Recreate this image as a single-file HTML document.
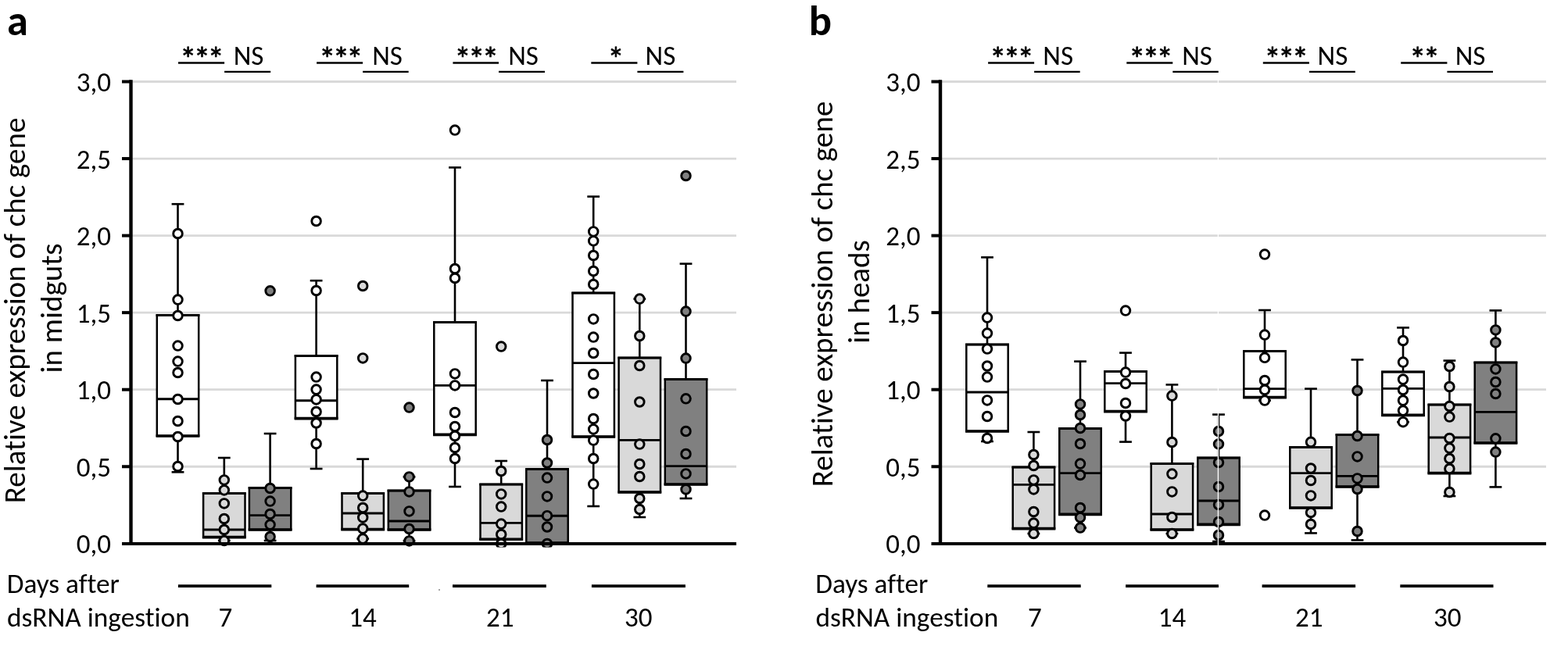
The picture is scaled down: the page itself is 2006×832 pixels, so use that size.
<!DOCTYPE html>
<html><head><meta charset="utf-8"><title>chc gene expression</title>
<style>
html,body{margin:0;padding:0;background:#fff;width:2006px;height:832px;overflow:hidden}
svg{display:block}
text{font-variant-ligatures:none;font-feature-settings:"liga" 0,"clig" 0}
.t{font-family:"Carlito","Liberation Sans",sans-serif;font-size:35px;fill:#000}
.yt{font-family:"Carlito","Liberation Sans",sans-serif;font-size:39px;fill:#000}
.t2{font-family:"Carlito","Liberation Sans",sans-serif;font-size:35.3px;fill:#000}
.ast{font-family:"Carlito","Liberation Sans",sans-serif;font-size:43px;letter-spacing:-3.7px;fill:#000;stroke:#000;stroke-width:0.7px}
.L{font-family:"Carlito","Liberation Sans",sans-serif;font-size:54.5px;font-weight:bold;fill:#000}
</style></head><body>
<svg width="2006" height="832" viewBox="0 0 2006 832">
<defs><clipPath id="pc"><rect x="0" y="0" width="2006" height="700.6"/></clipPath></defs>
<rect width="2006" height="832" fill="#fff"/>
<line x1="167.5" y1="597.25" x2="942" y2="597.25" stroke="#d9d9d9" stroke-width="2.8"/>
<line x1="167.5" y1="498.7" x2="942" y2="498.7" stroke="#d9d9d9" stroke-width="2.8"/>
<line x1="167.5" y1="400.15" x2="942" y2="400.15" stroke="#d9d9d9" stroke-width="2.8"/>
<line x1="167.5" y1="301.6" x2="942" y2="301.6" stroke="#d9d9d9" stroke-width="2.8"/>
<line x1="167.5" y1="203.05" x2="942" y2="203.05" stroke="#d9d9d9" stroke-width="2.8"/>
<line x1="167.5" y1="104.5" x2="942" y2="104.5" stroke="#d9d9d9" stroke-width="2.8"/>
<line x1="227.5" y1="261.2" x2="227.5" y2="403.4" stroke="#000" stroke-width="2.6"/>
<line x1="219.6" y1="261.2" x2="235.4" y2="261.2" stroke="#000" stroke-width="2.6"/>
<line x1="227.5" y1="558" x2="227.5" y2="604.3" stroke="#000" stroke-width="2.6"/>
<line x1="219.6" y1="604.3" x2="235.4" y2="604.3" stroke="#000" stroke-width="2.6"/>
<rect x="200.8" y="403.4" width="53.4" height="154.6" fill="white" stroke="#000" stroke-width="2.5"/>
<line x1="199.6" y1="403.4" x2="255.4" y2="403.4" stroke="#000" stroke-width="3"/>
<line x1="199.6" y1="558" x2="255.4" y2="558" stroke="#000" stroke-width="3.6"/>
<line x1="200.8" y1="510.8" x2="254.2" y2="510.8" stroke="#000" stroke-width="2.9"/>
<circle cx="227.5" cy="299" r="5.8" fill="white" stroke="#000" stroke-width="2.9"/>
<circle cx="227.5" cy="383.6" r="5.8" fill="white" stroke="#000" stroke-width="2.9"/>
<circle cx="227.5" cy="404" r="5.8" fill="white" stroke="#000" stroke-width="2.9"/>
<circle cx="227.5" cy="442.6" r="5.8" fill="white" stroke="#000" stroke-width="2.9"/>
<circle cx="227.5" cy="462.6" r="5.8" fill="white" stroke="#000" stroke-width="2.9"/>
<circle cx="227.5" cy="477" r="5.8" fill="white" stroke="#000" stroke-width="2.9"/>
<circle cx="227.5" cy="511" r="5.8" fill="white" stroke="#000" stroke-width="2.9"/>
<circle cx="227.5" cy="539" r="5.8" fill="white" stroke="#000" stroke-width="2.9"/>
<circle cx="227.5" cy="559" r="5.8" fill="white" stroke="#000" stroke-width="2.9"/>
<circle cx="227.5" cy="597" r="5.8" fill="white" stroke="#000" stroke-width="2.9"/>
<line x1="286.8" y1="586" x2="286.8" y2="631.6" stroke="#000" stroke-width="2.6"/>
<line x1="278.9" y1="586" x2="294.7" y2="586" stroke="#000" stroke-width="2.6"/>
<line x1="286.8" y1="687.6" x2="286.8" y2="692" stroke="#000" stroke-width="2.6"/>
<line x1="278.9" y1="692" x2="294.7" y2="692" stroke="#000" stroke-width="2.6"/>
<rect x="260.1" y="631.6" width="53.4" height="56" fill="#d9d9d9" stroke="#000" stroke-width="2.5"/>
<line x1="258.9" y1="631.6" x2="314.7" y2="631.6" stroke="#000" stroke-width="3"/>
<line x1="258.9" y1="687.6" x2="314.7" y2="687.6" stroke="#000" stroke-width="3.6"/>
<line x1="260.1" y1="678" x2="313.5" y2="678" stroke="#000" stroke-width="2.9"/>
<circle cx="286.8" cy="614.4" r="5.8" fill="#d9d9d9" stroke="#000" stroke-width="2.9"/>
<circle cx="286.8" cy="627.4" r="5.8" fill="#d9d9d9" stroke="#000" stroke-width="2.9"/>
<circle cx="286.8" cy="644.4" r="5.8" fill="#d9d9d9" stroke="#000" stroke-width="2.9"/>
<circle cx="286.8" cy="664" r="5.8" fill="#d9d9d9" stroke="#000" stroke-width="2.9"/>
<circle cx="286.8" cy="678" r="5.8" fill="#d9d9d9" stroke="#000" stroke-width="2.9"/>
<circle cx="286.8" cy="692" r="5.8" fill="#d9d9d9" stroke="#000" stroke-width="2.9" clip-path="url(#pc)"/>
<line x1="345.6" y1="555" x2="345.6" y2="624.6" stroke="#000" stroke-width="2.6"/>
<line x1="337.7" y1="555" x2="353.5" y2="555" stroke="#000" stroke-width="2.6"/>
<line x1="345.6" y1="678" x2="345.6" y2="692" stroke="#000" stroke-width="2.6"/>
<line x1="337.7" y1="692" x2="353.5" y2="692" stroke="#000" stroke-width="2.6"/>
<rect x="318.9" y="624.6" width="53.4" height="53.4" fill="#808080" stroke="#000" stroke-width="2.5"/>
<line x1="317.7" y1="624.6" x2="373.5" y2="624.6" stroke="#000" stroke-width="3"/>
<line x1="317.7" y1="678" x2="373.5" y2="678" stroke="#000" stroke-width="3.6"/>
<line x1="318.9" y1="659.6" x2="372.3" y2="659.6" stroke="#000" stroke-width="2.9"/>
<circle cx="345.6" cy="372.3" r="5.8" fill="#808080" stroke="#000" stroke-width="2.9"/>
<circle cx="345.6" cy="625" r="5.8" fill="#808080" stroke="#000" stroke-width="2.9"/>
<circle cx="345.6" cy="641.6" r="5.8" fill="#808080" stroke="#000" stroke-width="2.9"/>
<circle cx="345.6" cy="658" r="5.8" fill="#808080" stroke="#000" stroke-width="2.9"/>
<circle cx="345.6" cy="671.6" r="5.8" fill="#808080" stroke="#000" stroke-width="2.9"/>
<circle cx="345.6" cy="687" r="5.8" fill="#808080" stroke="#000" stroke-width="2.9"/>
<line x1="404.6" y1="359.2" x2="404.6" y2="455.4" stroke="#000" stroke-width="2.6"/>
<line x1="396.7" y1="359.2" x2="412.5" y2="359.2" stroke="#000" stroke-width="2.6"/>
<line x1="404.6" y1="535.6" x2="404.6" y2="600" stroke="#000" stroke-width="2.6"/>
<line x1="396.7" y1="600" x2="412.5" y2="600" stroke="#000" stroke-width="2.6"/>
<rect x="377.9" y="455.4" width="53.4" height="80.2" fill="white" stroke="#000" stroke-width="2.5"/>
<line x1="376.7" y1="455.4" x2="432.5" y2="455.4" stroke="#000" stroke-width="3"/>
<line x1="376.7" y1="535.6" x2="432.5" y2="535.6" stroke="#000" stroke-width="3.6"/>
<line x1="377.9" y1="512.8" x2="431.3" y2="512.8" stroke="#000" stroke-width="2.9"/>
<circle cx="404.6" cy="283" r="5.8" fill="white" stroke="#000" stroke-width="2.9"/>
<circle cx="404.6" cy="372" r="5.8" fill="white" stroke="#000" stroke-width="2.9"/>
<circle cx="404.6" cy="482.6" r="5.8" fill="white" stroke="#000" stroke-width="2.9"/>
<circle cx="404.6" cy="498.6" r="5.8" fill="white" stroke="#000" stroke-width="2.9"/>
<circle cx="404.6" cy="511.4" r="5.8" fill="white" stroke="#000" stroke-width="2.9"/>
<circle cx="404.6" cy="527" r="5.8" fill="white" stroke="#000" stroke-width="2.9"/>
<circle cx="404.6" cy="541.5" r="5.8" fill="white" stroke="#000" stroke-width="2.9"/>
<circle cx="404.6" cy="568" r="5.8" fill="white" stroke="#000" stroke-width="2.9"/>
<line x1="464.2" y1="587.6" x2="464.2" y2="631.6" stroke="#000" stroke-width="2.6"/>
<line x1="456.3" y1="587.6" x2="472.1" y2="587.6" stroke="#000" stroke-width="2.6"/>
<line x1="464.2" y1="677.6" x2="464.2" y2="689.6" stroke="#000" stroke-width="2.6"/>
<line x1="456.3" y1="689.6" x2="472.1" y2="689.6" stroke="#000" stroke-width="2.6"/>
<rect x="437.5" y="631.6" width="53.4" height="46" fill="#d9d9d9" stroke="#000" stroke-width="2.5"/>
<line x1="436.3" y1="631.6" x2="492.1" y2="631.6" stroke="#000" stroke-width="3"/>
<line x1="436.3" y1="677.6" x2="492.1" y2="677.6" stroke="#000" stroke-width="3.6"/>
<line x1="437.5" y1="657" x2="490.9" y2="657" stroke="#000" stroke-width="2.9"/>
<circle cx="464.2" cy="366" r="5.8" fill="#d9d9d9" stroke="#000" stroke-width="2.9"/>
<circle cx="464.2" cy="458.4" r="5.8" fill="#d9d9d9" stroke="#000" stroke-width="2.9"/>
<circle cx="464.2" cy="634.6" r="5.8" fill="#d9d9d9" stroke="#000" stroke-width="2.9"/>
<circle cx="464.2" cy="650" r="5.8" fill="#d9d9d9" stroke="#000" stroke-width="2.9"/>
<circle cx="464.2" cy="662.4" r="5.8" fill="#d9d9d9" stroke="#000" stroke-width="2.9"/>
<circle cx="464.2" cy="676.6" r="5.8" fill="#d9d9d9" stroke="#000" stroke-width="2.9"/>
<circle cx="464.2" cy="689.6" r="5.8" fill="#d9d9d9" stroke="#000" stroke-width="2.9"/>
<line x1="523.5" y1="610.4" x2="523.5" y2="628" stroke="#000" stroke-width="2.6"/>
<line x1="515.6" y1="610.4" x2="531.4" y2="610.4" stroke="#000" stroke-width="2.6"/>
<line x1="523.5" y1="678" x2="523.5" y2="692.4" stroke="#000" stroke-width="2.6"/>
<line x1="515.6" y1="692.4" x2="531.4" y2="692.4" stroke="#000" stroke-width="2.6"/>
<rect x="496.8" y="628" width="53.4" height="50" fill="#808080" stroke="#000" stroke-width="2.5"/>
<line x1="495.6" y1="628" x2="551.4" y2="628" stroke="#000" stroke-width="3"/>
<line x1="495.6" y1="678" x2="551.4" y2="678" stroke="#000" stroke-width="3.6"/>
<line x1="496.8" y1="667" x2="550.2" y2="667" stroke="#000" stroke-width="2.9"/>
<circle cx="523.5" cy="521.6" r="5.8" fill="#808080" stroke="#000" stroke-width="2.9"/>
<circle cx="523.5" cy="610.4" r="5.8" fill="#808080" stroke="#000" stroke-width="2.9"/>
<circle cx="523.5" cy="629.4" r="5.8" fill="#808080" stroke="#000" stroke-width="2.9"/>
<circle cx="523.5" cy="654.4" r="5.8" fill="#808080" stroke="#000" stroke-width="2.9"/>
<circle cx="523.5" cy="677" r="5.8" fill="#808080" stroke="#000" stroke-width="2.9"/>
<circle cx="523.5" cy="692.4" r="5.8" fill="#808080" stroke="#000" stroke-width="2.9" clip-path="url(#pc)"/>
<line x1="582" y1="214.4" x2="582" y2="412.5" stroke="#000" stroke-width="2.6"/>
<line x1="574.1" y1="214.4" x2="589.9" y2="214.4" stroke="#000" stroke-width="2.6"/>
<line x1="582" y1="556.4" x2="582" y2="623" stroke="#000" stroke-width="2.6"/>
<line x1="574.1" y1="623" x2="589.9" y2="623" stroke="#000" stroke-width="2.6"/>
<rect x="555.3" y="412.5" width="53.4" height="143.9" fill="white" stroke="#000" stroke-width="2.5"/>
<line x1="554.1" y1="412.5" x2="609.9" y2="412.5" stroke="#000" stroke-width="3"/>
<line x1="554.1" y1="556.4" x2="609.9" y2="556.4" stroke="#000" stroke-width="3.6"/>
<line x1="555.3" y1="493.4" x2="608.7" y2="493.4" stroke="#000" stroke-width="2.9"/>
<circle cx="582" cy="166.6" r="5.8" fill="white" stroke="#000" stroke-width="2.9"/>
<circle cx="582" cy="344" r="5.8" fill="white" stroke="#000" stroke-width="2.9"/>
<circle cx="582" cy="356" r="5.8" fill="white" stroke="#000" stroke-width="2.9"/>
<circle cx="582" cy="478.4" r="5.8" fill="white" stroke="#000" stroke-width="2.9"/>
<circle cx="582" cy="493.4" r="5.8" fill="white" stroke="#000" stroke-width="2.9"/>
<circle cx="582" cy="528" r="5.8" fill="white" stroke="#000" stroke-width="2.9"/>
<circle cx="582" cy="546" r="5.8" fill="white" stroke="#000" stroke-width="2.9"/>
<circle cx="582" cy="558" r="5.8" fill="white" stroke="#000" stroke-width="2.9"/>
<circle cx="582" cy="573" r="5.8" fill="white" stroke="#000" stroke-width="2.9"/>
<circle cx="582" cy="587" r="5.8" fill="white" stroke="#000" stroke-width="2.9"/>
<line x1="641.2" y1="590" x2="641.2" y2="620" stroke="#000" stroke-width="2.6"/>
<line x1="633.3" y1="590" x2="649.1" y2="590" stroke="#000" stroke-width="2.6"/>
<line x1="641.2" y1="690.3" x2="641.2" y2="696" stroke="#000" stroke-width="2.6"/>
<line x1="633.3" y1="696" x2="649.1" y2="696" stroke="#000" stroke-width="2.6"/>
<rect x="614.5" y="620" width="53.4" height="70.3" fill="#d9d9d9" stroke="#000" stroke-width="2.5"/>
<line x1="613.3" y1="620" x2="669.1" y2="620" stroke="#000" stroke-width="3"/>
<line x1="613.3" y1="690.3" x2="669.1" y2="690.3" stroke="#000" stroke-width="3.6"/>
<line x1="614.5" y1="669.4" x2="667.9" y2="669.4" stroke="#000" stroke-width="2.9"/>
<circle cx="641.2" cy="443.6" r="5.8" fill="#d9d9d9" stroke="#000" stroke-width="2.9"/>
<circle cx="641.2" cy="603" r="5.8" fill="#d9d9d9" stroke="#000" stroke-width="2.9"/>
<circle cx="641.2" cy="632.4" r="5.8" fill="#d9d9d9" stroke="#000" stroke-width="2.9"/>
<circle cx="641.2" cy="648.6" r="5.8" fill="#d9d9d9" stroke="#000" stroke-width="2.9"/>
<circle cx="641.2" cy="670.6" r="5.8" fill="#d9d9d9" stroke="#000" stroke-width="2.9"/>
<circle cx="641.2" cy="684" r="5.8" fill="#d9d9d9" stroke="#000" stroke-width="2.9"/>
<circle cx="641.2" cy="696" r="5.8" fill="#d9d9d9" stroke="#000" stroke-width="2.9" clip-path="url(#pc)"/>
<line x1="700" y1="487" x2="700" y2="600.6" stroke="#000" stroke-width="2.6"/>
<line x1="692.1" y1="487" x2="707.9" y2="487" stroke="#000" stroke-width="2.6"/>
<line x1="700" y1="695" x2="700" y2="696" stroke="#000" stroke-width="2.6"/>
<line x1="692.1" y1="696" x2="707.9" y2="696" stroke="#000" stroke-width="2.6"/>
<rect x="673.3" y="600.6" width="53.4" height="94.4" fill="#808080" stroke="#000" stroke-width="2.5"/>
<line x1="672.1" y1="600.6" x2="727.9" y2="600.6" stroke="#000" stroke-width="3"/>
<line x1="672.1" y1="695" x2="727.9" y2="695" stroke="#000" stroke-width="3.6"/>
<line x1="673.3" y1="660.2" x2="726.7" y2="660.2" stroke="#000" stroke-width="2.9"/>
<circle cx="700" cy="563" r="5.8" fill="#808080" stroke="#000" stroke-width="2.9"/>
<circle cx="700" cy="592.5" r="5.8" fill="#808080" stroke="#000" stroke-width="2.9"/>
<circle cx="700" cy="611.6" r="5.8" fill="#808080" stroke="#000" stroke-width="2.9"/>
<circle cx="700" cy="635.4" r="5.8" fill="#808080" stroke="#000" stroke-width="2.9"/>
<circle cx="700" cy="660.2" r="5.8" fill="#808080" stroke="#000" stroke-width="2.9"/>
<circle cx="700" cy="674.5" r="5.8" fill="#808080" stroke="#000" stroke-width="2.9"/>
<circle cx="700" cy="696" r="5.8" fill="#808080" stroke="#000" stroke-width="2.9" clip-path="url(#pc)"/>
<line x1="759.2" y1="251.6" x2="759.2" y2="375" stroke="#000" stroke-width="2.6"/>
<line x1="751.3" y1="251.6" x2="767.1" y2="251.6" stroke="#000" stroke-width="2.6"/>
<line x1="759.2" y1="559" x2="759.2" y2="648" stroke="#000" stroke-width="2.6"/>
<line x1="751.3" y1="648" x2="767.1" y2="648" stroke="#000" stroke-width="2.6"/>
<rect x="732.5" y="375" width="53.4" height="184" fill="white" stroke="#000" stroke-width="2.5"/>
<line x1="731.3" y1="375" x2="787.1" y2="375" stroke="#000" stroke-width="3"/>
<line x1="731.3" y1="559" x2="787.1" y2="559" stroke="#000" stroke-width="3.6"/>
<line x1="732.5" y1="464.6" x2="785.9" y2="464.6" stroke="#000" stroke-width="2.9"/>
<circle cx="759.2" cy="296.4" r="5.8" fill="white" stroke="#000" stroke-width="2.9"/>
<circle cx="759.2" cy="308.4" r="5.8" fill="white" stroke="#000" stroke-width="2.9"/>
<circle cx="759.2" cy="327" r="5.8" fill="white" stroke="#000" stroke-width="2.9"/>
<circle cx="759.2" cy="347" r="5.8" fill="white" stroke="#000" stroke-width="2.9"/>
<circle cx="759.2" cy="364" r="5.8" fill="white" stroke="#000" stroke-width="2.9"/>
<circle cx="759.2" cy="408.4" r="5.8" fill="white" stroke="#000" stroke-width="2.9"/>
<circle cx="759.2" cy="431.6" r="5.8" fill="white" stroke="#000" stroke-width="2.9"/>
<circle cx="759.2" cy="452" r="5.8" fill="white" stroke="#000" stroke-width="2.9"/>
<circle cx="759.2" cy="479" r="5.8" fill="white" stroke="#000" stroke-width="2.9"/>
<circle cx="759.2" cy="503.5" r="5.8" fill="white" stroke="#000" stroke-width="2.9"/>
<circle cx="759.2" cy="536" r="5.8" fill="white" stroke="#000" stroke-width="2.9"/>
<circle cx="759.2" cy="549.4" r="5.8" fill="white" stroke="#000" stroke-width="2.9"/>
<circle cx="759.2" cy="563.6" r="5.8" fill="white" stroke="#000" stroke-width="2.9"/>
<circle cx="759.2" cy="587" r="5.8" fill="white" stroke="#000" stroke-width="2.9"/>
<circle cx="759.2" cy="619.6" r="5.8" fill="white" stroke="#000" stroke-width="2.9"/>
<line x1="818.3" y1="382.6" x2="818.3" y2="458" stroke="#000" stroke-width="2.6"/>
<line x1="810.4" y1="382.6" x2="826.2" y2="382.6" stroke="#000" stroke-width="2.6"/>
<line x1="818.3" y1="630" x2="818.3" y2="662" stroke="#000" stroke-width="2.6"/>
<line x1="810.4" y1="662" x2="826.2" y2="662" stroke="#000" stroke-width="2.6"/>
<rect x="791.6" y="458" width="53.4" height="172" fill="#d9d9d9" stroke="#000" stroke-width="2.5"/>
<line x1="790.4" y1="458" x2="846.2" y2="458" stroke="#000" stroke-width="3"/>
<line x1="790.4" y1="630" x2="846.2" y2="630" stroke="#000" stroke-width="3.6"/>
<line x1="791.6" y1="563.4" x2="845" y2="563.4" stroke="#000" stroke-width="2.9"/>
<circle cx="818.3" cy="382.6" r="5.8" fill="#d9d9d9" stroke="#000" stroke-width="2.9"/>
<circle cx="818.3" cy="430" r="5.8" fill="#d9d9d9" stroke="#000" stroke-width="2.9"/>
<circle cx="818.3" cy="468" r="5.8" fill="#d9d9d9" stroke="#000" stroke-width="2.9"/>
<circle cx="818.3" cy="514.5" r="5.8" fill="#d9d9d9" stroke="#000" stroke-width="2.9"/>
<circle cx="818.3" cy="568.6" r="5.8" fill="#d9d9d9" stroke="#000" stroke-width="2.9"/>
<circle cx="818.3" cy="594" r="5.8" fill="#d9d9d9" stroke="#000" stroke-width="2.9"/>
<circle cx="818.3" cy="610" r="5.8" fill="#d9d9d9" stroke="#000" stroke-width="2.9"/>
<circle cx="818.3" cy="638" r="5.8" fill="#d9d9d9" stroke="#000" stroke-width="2.9"/>
<circle cx="818.3" cy="652" r="5.8" fill="#d9d9d9" stroke="#000" stroke-width="2.9"/>
<line x1="877.5" y1="337.6" x2="877.5" y2="485.4" stroke="#000" stroke-width="2.6"/>
<line x1="869.6" y1="337.6" x2="885.4" y2="337.6" stroke="#000" stroke-width="2.6"/>
<line x1="877.5" y1="620" x2="877.5" y2="638" stroke="#000" stroke-width="2.6"/>
<line x1="869.6" y1="638" x2="885.4" y2="638" stroke="#000" stroke-width="2.6"/>
<rect x="850.8" y="485.4" width="53.4" height="134.6" fill="#808080" stroke="#000" stroke-width="2.5"/>
<line x1="849.6" y1="485.4" x2="905.4" y2="485.4" stroke="#000" stroke-width="3"/>
<line x1="849.6" y1="620" x2="905.4" y2="620" stroke="#000" stroke-width="3.6"/>
<line x1="850.8" y1="596.6" x2="904.2" y2="596.6" stroke="#000" stroke-width="2.9"/>
<circle cx="877.5" cy="225" r="5.8" fill="#808080" stroke="#000" stroke-width="2.9"/>
<circle cx="877.5" cy="398.6" r="5.8" fill="#808080" stroke="#000" stroke-width="2.9"/>
<circle cx="877.5" cy="458.6" r="5.8" fill="#808080" stroke="#000" stroke-width="2.9"/>
<circle cx="877.5" cy="510.3" r="5.8" fill="#808080" stroke="#000" stroke-width="2.9"/>
<circle cx="877.5" cy="552" r="5.8" fill="#808080" stroke="#000" stroke-width="2.9"/>
<circle cx="877.5" cy="581" r="5.8" fill="#808080" stroke="#000" stroke-width="2.9"/>
<circle cx="877.5" cy="606.4" r="5.8" fill="#808080" stroke="#000" stroke-width="2.9"/>
<circle cx="877.5" cy="626.4" r="5.8" fill="#808080" stroke="#000" stroke-width="2.9"/>
<line x1="167.5" y1="102.3" x2="167.5" y2="698" stroke="#000" stroke-width="4.4"/>
<line x1="156" y1="695.9" x2="942" y2="695.9" stroke="#000" stroke-width="4"/>
<line x1="156" y1="597.25" x2="167.5" y2="597.25" stroke="#000" stroke-width="4"/>
<line x1="156" y1="498.7" x2="167.5" y2="498.7" stroke="#000" stroke-width="4"/>
<line x1="156" y1="400.15" x2="167.5" y2="400.15" stroke="#000" stroke-width="4"/>
<line x1="156" y1="301.6" x2="167.5" y2="301.6" stroke="#000" stroke-width="4"/>
<line x1="156" y1="203.05" x2="167.5" y2="203.05" stroke="#000" stroke-width="4"/>
<line x1="156" y1="104.5" x2="167.5" y2="104.5" stroke="#000" stroke-width="4"/>
<text x="142" y="708.4" class="t" text-anchor="end" textLength="44.22" lengthAdjust="spacingAndGlyphs">0,0</text>
<text x="142" y="609.85" class="t" text-anchor="end" textLength="44.22" lengthAdjust="spacingAndGlyphs">0,5</text>
<text x="142" y="511.3" class="t" text-anchor="end" textLength="44.22" lengthAdjust="spacingAndGlyphs">1,0</text>
<text x="142" y="412.75" class="t" text-anchor="end" textLength="44.22" lengthAdjust="spacingAndGlyphs">1,5</text>
<text x="142" y="314.2" class="t" text-anchor="end" textLength="44.22" lengthAdjust="spacingAndGlyphs">2,0</text>
<text x="142" y="215.65" class="t" text-anchor="end" textLength="44.22" lengthAdjust="spacingAndGlyphs">2,5</text>
<text x="142" y="117.1" class="t" text-anchor="end" textLength="44.22" lengthAdjust="spacingAndGlyphs">3,0</text>
<line x1="228" y1="80.5" x2="287.1" y2="80.5" stroke="#000" stroke-width="2.4"/>
<line x1="287.1" y1="91.9" x2="346.2" y2="91.9" stroke="#000" stroke-width="2.4"/>
<text x="256.7" y="90.7" class="ast" text-anchor="middle">***</text>
<text x="318.1" y="82.8" class="t" text-anchor="middle" textLength="38.69" lengthAdjust="spacingAndGlyphs">NS</text>
<line x1="405.1" y1="80.5" x2="464.1" y2="80.5" stroke="#000" stroke-width="2.4"/>
<line x1="464.1" y1="91.9" x2="522.7" y2="91.9" stroke="#000" stroke-width="2.4"/>
<text x="434.5" y="90.7" class="ast" text-anchor="middle">***</text>
<text x="495.5" y="82.8" class="t" text-anchor="middle" textLength="38.69" lengthAdjust="spacingAndGlyphs">NS</text>
<line x1="579.4" y1="80.5" x2="638" y2="80.5" stroke="#000" stroke-width="2.4"/>
<line x1="638" y1="91.9" x2="697" y2="91.9" stroke="#000" stroke-width="2.4"/>
<text x="607.8" y="90.7" class="ast" text-anchor="middle">***</text>
<text x="669.5" y="82.8" class="t" text-anchor="middle" textLength="38.69" lengthAdjust="spacingAndGlyphs">NS</text>
<line x1="756.3" y1="80.5" x2="815.4" y2="80.5" stroke="#000" stroke-width="2.4"/>
<line x1="815.4" y1="91.9" x2="874.4" y2="91.9" stroke="#000" stroke-width="2.4"/>
<text x="786" y="90.7" class="ast" text-anchor="middle">*</text>
<text x="844.9" y="82.8" class="t" text-anchor="middle" textLength="38.69" lengthAdjust="spacingAndGlyphs">NS</text>
<text x="8.7" y="758.6" class="t2" textLength="144.19" lengthAdjust="spacingAndGlyphs">Days after</text>
<text x="9" y="802" class="t2" textLength="233.73" lengthAdjust="spacingAndGlyphs">dsRNA ingestion</text>
<line x1="227.9" y1="750.1" x2="347.3" y2="750.1" stroke="#000" stroke-width="3.7"/>
<text x="288.25" y="802" class="t" text-anchor="middle" textLength="17.75" lengthAdjust="spacingAndGlyphs">7</text>
<line x1="404.6" y1="750.1" x2="523.2" y2="750.1" stroke="#000" stroke-width="3.7"/>
<text x="464.05" y="802" class="t" text-anchor="middle" textLength="35.48" lengthAdjust="spacingAndGlyphs">14</text>
<line x1="579" y1="750.1" x2="698.8" y2="750.1" stroke="#000" stroke-width="3.7"/>
<text x="639.75" y="802" class="t" text-anchor="middle" textLength="35.48" lengthAdjust="spacingAndGlyphs">21</text>
<line x1="756.9" y1="750.1" x2="876.9" y2="750.1" stroke="#000" stroke-width="3.7"/>
<text x="816.75" y="802" class="t" text-anchor="middle" textLength="35.48" lengthAdjust="spacingAndGlyphs">30</text>
<text transform="translate(32.4,397.4) rotate(-90)" text-anchor="middle" class="yt" textLength="493.56" lengthAdjust="spacingAndGlyphs">Relative expression of chc gene</text>
<text transform="translate(78.9,394.4) rotate(-90)" text-anchor="middle" class="yt" textLength="166.03" lengthAdjust="spacingAndGlyphs">in midguts</text>
<text x="9" y="45" class="L" textLength="26.91" lengthAdjust="spacingAndGlyphs">a</text>
<line x1="1203" y1="597.25" x2="1978" y2="597.25" stroke="#d9d9d9" stroke-width="2.8"/>
<line x1="1203" y1="498.7" x2="1978" y2="498.7" stroke="#d9d9d9" stroke-width="2.8"/>
<line x1="1203" y1="400.15" x2="1978" y2="400.15" stroke="#d9d9d9" stroke-width="2.8"/>
<line x1="1203" y1="301.6" x2="1978" y2="301.6" stroke="#d9d9d9" stroke-width="2.8"/>
<line x1="1203" y1="203.05" x2="1978" y2="203.05" stroke="#d9d9d9" stroke-width="2.8"/>
<line x1="1203" y1="104.5" x2="1978" y2="104.5" stroke="#d9d9d9" stroke-width="2.8"/>
<line x1="1263" y1="329.4" x2="1263" y2="441" stroke="#000" stroke-width="2.6"/>
<line x1="1255.1" y1="329.4" x2="1270.9" y2="329.4" stroke="#000" stroke-width="2.6"/>
<line x1="1263" y1="552" x2="1263" y2="565" stroke="#000" stroke-width="2.6"/>
<line x1="1255.1" y1="565" x2="1270.9" y2="565" stroke="#000" stroke-width="2.6"/>
<rect x="1236.3" y="441" width="53.4" height="111" fill="white" stroke="#000" stroke-width="2.5"/>
<line x1="1235.1" y1="441" x2="1290.9" y2="441" stroke="#000" stroke-width="3"/>
<line x1="1235.1" y1="552" x2="1290.9" y2="552" stroke="#000" stroke-width="3.6"/>
<line x1="1236.3" y1="502" x2="1289.7" y2="502" stroke="#000" stroke-width="2.9"/>
<circle cx="1263" cy="406.6" r="5.8" fill="white" stroke="#000" stroke-width="2.9"/>
<circle cx="1263" cy="426.6" r="5.8" fill="white" stroke="#000" stroke-width="2.9"/>
<circle cx="1263" cy="446.6" r="5.8" fill="white" stroke="#000" stroke-width="2.9"/>
<circle cx="1263" cy="468.5" r="5.8" fill="white" stroke="#000" stroke-width="2.9"/>
<circle cx="1263" cy="482.6" r="5.8" fill="white" stroke="#000" stroke-width="2.9"/>
<circle cx="1263" cy="512.4" r="5.8" fill="white" stroke="#000" stroke-width="2.9"/>
<circle cx="1263" cy="533" r="5.8" fill="white" stroke="#000" stroke-width="2.9"/>
<circle cx="1263" cy="561" r="5.8" fill="white" stroke="#000" stroke-width="2.9"/>
<line x1="1322.4" y1="553" x2="1322.4" y2="598" stroke="#000" stroke-width="2.6"/>
<line x1="1314.5" y1="553" x2="1330.3" y2="553" stroke="#000" stroke-width="2.6"/>
<line x1="1322.4" y1="676.6" x2="1322.4" y2="683" stroke="#000" stroke-width="2.6"/>
<line x1="1314.5" y1="683" x2="1330.3" y2="683" stroke="#000" stroke-width="2.6"/>
<rect x="1295.7" y="598" width="53.4" height="78.6" fill="#d9d9d9" stroke="#000" stroke-width="2.5"/>
<line x1="1294.5" y1="598" x2="1350.3" y2="598" stroke="#000" stroke-width="3"/>
<line x1="1294.5" y1="676.6" x2="1350.3" y2="676.6" stroke="#000" stroke-width="3.6"/>
<line x1="1295.7" y1="620.4" x2="1349.1" y2="620.4" stroke="#000" stroke-width="2.9"/>
<circle cx="1322.4" cy="582" r="5.8" fill="#d9d9d9" stroke="#000" stroke-width="2.9"/>
<circle cx="1322.4" cy="596" r="5.8" fill="#d9d9d9" stroke="#000" stroke-width="2.9"/>
<circle cx="1322.4" cy="614.4" r="5.8" fill="#d9d9d9" stroke="#000" stroke-width="2.9"/>
<circle cx="1322.4" cy="626.4" r="5.8" fill="#d9d9d9" stroke="#000" stroke-width="2.9"/>
<circle cx="1322.4" cy="655" r="5.8" fill="#d9d9d9" stroke="#000" stroke-width="2.9"/>
<circle cx="1322.4" cy="669.6" r="5.8" fill="#d9d9d9" stroke="#000" stroke-width="2.9"/>
<circle cx="1322.4" cy="683" r="5.8" fill="#d9d9d9" stroke="#000" stroke-width="2.9"/>
<line x1="1382" y1="462.6" x2="1382" y2="548.4" stroke="#000" stroke-width="2.6"/>
<line x1="1374.1" y1="462.6" x2="1389.9" y2="462.6" stroke="#000" stroke-width="2.6"/>
<line x1="1382" y1="658.4" x2="1382" y2="675.6" stroke="#000" stroke-width="2.6"/>
<line x1="1374.1" y1="675.6" x2="1389.9" y2="675.6" stroke="#000" stroke-width="2.6"/>
<rect x="1355.3" y="548.4" width="53.4" height="110" fill="#808080" stroke="#000" stroke-width="2.5"/>
<line x1="1354.1" y1="548.4" x2="1409.9" y2="548.4" stroke="#000" stroke-width="3"/>
<line x1="1354.1" y1="658.4" x2="1409.9" y2="658.4" stroke="#000" stroke-width="3.6"/>
<line x1="1355.3" y1="605.6" x2="1408.7" y2="605.6" stroke="#000" stroke-width="2.9"/>
<circle cx="1382" cy="517.4" r="5.8" fill="#808080" stroke="#000" stroke-width="2.9"/>
<circle cx="1382" cy="531" r="5.8" fill="#808080" stroke="#000" stroke-width="2.9"/>
<circle cx="1382" cy="548" r="5.8" fill="#808080" stroke="#000" stroke-width="2.9"/>
<circle cx="1382" cy="568" r="5.8" fill="#808080" stroke="#000" stroke-width="2.9"/>
<circle cx="1382" cy="593.6" r="5.8" fill="#808080" stroke="#000" stroke-width="2.9"/>
<circle cx="1382" cy="608" r="5.8" fill="#808080" stroke="#000" stroke-width="2.9"/>
<circle cx="1382" cy="650" r="5.8" fill="#808080" stroke="#000" stroke-width="2.9"/>
<circle cx="1382" cy="662.4" r="5.8" fill="#808080" stroke="#000" stroke-width="2.9"/>
<circle cx="1382" cy="675.6" r="5.8" fill="#808080" stroke="#000" stroke-width="2.9"/>
<line x1="1440" y1="451.6" x2="1440" y2="475.4" stroke="#000" stroke-width="2.6"/>
<line x1="1432.1" y1="451.6" x2="1447.9" y2="451.6" stroke="#000" stroke-width="2.6"/>
<line x1="1440" y1="526.6" x2="1440" y2="565.6" stroke="#000" stroke-width="2.6"/>
<line x1="1432.1" y1="565.6" x2="1447.9" y2="565.6" stroke="#000" stroke-width="2.6"/>
<rect x="1413.3" y="475.4" width="53.4" height="51.2" fill="white" stroke="#000" stroke-width="2.5"/>
<line x1="1412.1" y1="475.4" x2="1467.9" y2="475.4" stroke="#000" stroke-width="3"/>
<line x1="1412.1" y1="526.6" x2="1467.9" y2="526.6" stroke="#000" stroke-width="3.6"/>
<line x1="1413.3" y1="490.6" x2="1466.7" y2="490.6" stroke="#000" stroke-width="2.9"/>
<circle cx="1440" cy="397.6" r="5.8" fill="white" stroke="#000" stroke-width="2.9"/>
<circle cx="1440" cy="476.6" r="5.8" fill="white" stroke="#000" stroke-width="2.9"/>
<circle cx="1440" cy="491" r="5.8" fill="white" stroke="#000" stroke-width="2.9"/>
<circle cx="1440" cy="516" r="5.8" fill="white" stroke="#000" stroke-width="2.9"/>
<circle cx="1440" cy="532.5" r="5.8" fill="white" stroke="#000" stroke-width="2.9"/>
<line x1="1499.4" y1="492.4" x2="1499.4" y2="593.6" stroke="#000" stroke-width="2.6"/>
<line x1="1491.5" y1="492.4" x2="1507.3" y2="492.4" stroke="#000" stroke-width="2.6"/>
<line x1="1499.4" y1="678" x2="1499.4" y2="683" stroke="#000" stroke-width="2.6"/>
<line x1="1491.5" y1="683" x2="1507.3" y2="683" stroke="#000" stroke-width="2.6"/>
<rect x="1472.7" y="593.6" width="53.4" height="84.4" fill="#d9d9d9" stroke="#000" stroke-width="2.5"/>
<line x1="1471.5" y1="593.6" x2="1527.3" y2="593.6" stroke="#000" stroke-width="3"/>
<line x1="1471.5" y1="678" x2="1527.3" y2="678" stroke="#000" stroke-width="3.6"/>
<line x1="1472.7" y1="658" x2="1526.1" y2="658" stroke="#000" stroke-width="2.9"/>
<circle cx="1499.4" cy="506.6" r="5.8" fill="#d9d9d9" stroke="#000" stroke-width="2.9"/>
<circle cx="1499.4" cy="566" r="5.8" fill="#d9d9d9" stroke="#000" stroke-width="2.9"/>
<circle cx="1499.4" cy="606.6" r="5.8" fill="#d9d9d9" stroke="#000" stroke-width="2.9"/>
<circle cx="1499.4" cy="629.4" r="5.8" fill="#d9d9d9" stroke="#000" stroke-width="2.9"/>
<circle cx="1499.4" cy="662" r="5.8" fill="#d9d9d9" stroke="#000" stroke-width="2.9"/>
<circle cx="1499.4" cy="683" r="5.8" fill="#d9d9d9" stroke="#000" stroke-width="2.9"/>
<line x1="1559" y1="530.6" x2="1559" y2="586" stroke="#000" stroke-width="2.6"/>
<line x1="1551.1" y1="530.6" x2="1566.9" y2="530.6" stroke="#000" stroke-width="2.6"/>
<line x1="1559" y1="671.4" x2="1559" y2="693" stroke="#000" stroke-width="2.6"/>
<line x1="1551.1" y1="693" x2="1566.9" y2="693" stroke="#000" stroke-width="2.6"/>
<rect x="1532.3" y="586" width="53.4" height="85.4" fill="#808080" stroke="#000" stroke-width="2.5"/>
<line x1="1531.1" y1="586" x2="1586.9" y2="586" stroke="#000" stroke-width="3"/>
<line x1="1531.1" y1="671.4" x2="1586.9" y2="671.4" stroke="#000" stroke-width="3.6"/>
<line x1="1532.3" y1="641" x2="1585.7" y2="641" stroke="#000" stroke-width="2.9"/>
<circle cx="1559" cy="552" r="5.8" fill="#808080" stroke="#000" stroke-width="2.9"/>
<circle cx="1559" cy="568.4" r="5.8" fill="#808080" stroke="#000" stroke-width="2.9"/>
<circle cx="1559" cy="592" r="5.8" fill="#808080" stroke="#000" stroke-width="2.9"/>
<circle cx="1559" cy="623" r="5.8" fill="#808080" stroke="#000" stroke-width="2.9"/>
<circle cx="1559" cy="646" r="5.8" fill="#808080" stroke="#000" stroke-width="2.9"/>
<circle cx="1559" cy="668" r="5.8" fill="#808080" stroke="#000" stroke-width="2.9"/>
<circle cx="1559" cy="685" r="5.8" fill="#808080" stroke="#000" stroke-width="2.9"/>
<line x1="1618" y1="397" x2="1618" y2="449.6" stroke="#000" stroke-width="2.6"/>
<line x1="1610.1" y1="397" x2="1625.9" y2="397" stroke="#000" stroke-width="2.6"/>
<line x1="1618" y1="508.6" x2="1618" y2="512.6" stroke="#000" stroke-width="2.6"/>
<line x1="1610.1" y1="512.6" x2="1625.9" y2="512.6" stroke="#000" stroke-width="2.6"/>
<rect x="1591.3" y="449.6" width="53.4" height="59" fill="white" stroke="#000" stroke-width="2.5"/>
<line x1="1590.1" y1="449.6" x2="1645.9" y2="449.6" stroke="#000" stroke-width="3"/>
<line x1="1590.1" y1="508.6" x2="1645.9" y2="508.6" stroke="#000" stroke-width="3.6"/>
<line x1="1591.3" y1="497.6" x2="1644.7" y2="497.6" stroke="#000" stroke-width="2.9"/>
<circle cx="1618" cy="325.6" r="5.8" fill="white" stroke="#000" stroke-width="2.9"/>
<circle cx="1618" cy="428.6" r="5.8" fill="white" stroke="#000" stroke-width="2.9"/>
<circle cx="1618" cy="457.8" r="5.8" fill="white" stroke="#000" stroke-width="2.9"/>
<circle cx="1618" cy="487" r="5.8" fill="white" stroke="#000" stroke-width="2.9"/>
<circle cx="1618" cy="499" r="5.8" fill="white" stroke="#000" stroke-width="2.9"/>
<circle cx="1618" cy="512.6" r="5.8" fill="white" stroke="#000" stroke-width="2.9"/>
<circle cx="1618" cy="659.6" r="5.8" fill="white" stroke="#000" stroke-width="2.9"/>
<line x1="1677" y1="497.6" x2="1677" y2="572.4" stroke="#000" stroke-width="2.6"/>
<line x1="1669.1" y1="497.6" x2="1684.9" y2="497.6" stroke="#000" stroke-width="2.6"/>
<line x1="1677" y1="650" x2="1677" y2="682.4" stroke="#000" stroke-width="2.6"/>
<line x1="1669.1" y1="682.4" x2="1684.9" y2="682.4" stroke="#000" stroke-width="2.6"/>
<rect x="1650.3" y="572.4" width="53.4" height="77.6" fill="#d9d9d9" stroke="#000" stroke-width="2.5"/>
<line x1="1649.1" y1="572.4" x2="1704.9" y2="572.4" stroke="#000" stroke-width="3"/>
<line x1="1649.1" y1="650" x2="1704.9" y2="650" stroke="#000" stroke-width="3.6"/>
<line x1="1650.3" y1="605.6" x2="1703.7" y2="605.6" stroke="#000" stroke-width="2.9"/>
<circle cx="1677" cy="565.8" r="5.8" fill="#d9d9d9" stroke="#000" stroke-width="2.9"/>
<circle cx="1677" cy="599.5" r="5.8" fill="#d9d9d9" stroke="#000" stroke-width="2.9"/>
<circle cx="1677" cy="615" r="5.8" fill="#d9d9d9" stroke="#000" stroke-width="2.9"/>
<circle cx="1677" cy="634.4" r="5.8" fill="#d9d9d9" stroke="#000" stroke-width="2.9"/>
<circle cx="1677" cy="656" r="5.8" fill="#d9d9d9" stroke="#000" stroke-width="2.9"/>
<circle cx="1677" cy="671" r="5.8" fill="#d9d9d9" stroke="#000" stroke-width="2.9"/>
<line x1="1736.5" y1="460.4" x2="1736.5" y2="556.6" stroke="#000" stroke-width="2.6"/>
<line x1="1728.6" y1="460.4" x2="1744.4" y2="460.4" stroke="#000" stroke-width="2.6"/>
<line x1="1736.5" y1="623" x2="1736.5" y2="691.4" stroke="#000" stroke-width="2.6"/>
<line x1="1728.6" y1="691.4" x2="1744.4" y2="691.4" stroke="#000" stroke-width="2.6"/>
<rect x="1709.8" y="556.6" width="53.4" height="66.4" fill="#808080" stroke="#000" stroke-width="2.5"/>
<line x1="1708.6" y1="556.6" x2="1764.4" y2="556.6" stroke="#000" stroke-width="3"/>
<line x1="1708.6" y1="623" x2="1764.4" y2="623" stroke="#000" stroke-width="3.6"/>
<line x1="1709.8" y1="609.4" x2="1763.2" y2="609.4" stroke="#000" stroke-width="2.9"/>
<circle cx="1736.5" cy="500" r="5.8" fill="#808080" stroke="#000" stroke-width="2.9"/>
<circle cx="1736.5" cy="558" r="5.8" fill="#808080" stroke="#000" stroke-width="2.9"/>
<circle cx="1736.5" cy="584.4" r="5.8" fill="#808080" stroke="#000" stroke-width="2.9"/>
<circle cx="1736.5" cy="612.4" r="5.8" fill="#808080" stroke="#000" stroke-width="2.9"/>
<circle cx="1736.5" cy="626" r="5.8" fill="#808080" stroke="#000" stroke-width="2.9"/>
<circle cx="1736.5" cy="680" r="5.8" fill="#808080" stroke="#000" stroke-width="2.9"/>
<line x1="1795" y1="419.4" x2="1795" y2="476" stroke="#000" stroke-width="2.6"/>
<line x1="1787.1" y1="419.4" x2="1802.9" y2="419.4" stroke="#000" stroke-width="2.6"/>
<line x1="1795" y1="531.4" x2="1795" y2="540.2" stroke="#000" stroke-width="2.6"/>
<line x1="1787.1" y1="540.2" x2="1802.9" y2="540.2" stroke="#000" stroke-width="2.6"/>
<rect x="1768.3" y="476" width="53.4" height="55.4" fill="white" stroke="#000" stroke-width="2.5"/>
<line x1="1767.1" y1="476" x2="1822.9" y2="476" stroke="#000" stroke-width="3"/>
<line x1="1767.1" y1="531.4" x2="1822.9" y2="531.4" stroke="#000" stroke-width="3.6"/>
<line x1="1768.3" y1="497.4" x2="1821.7" y2="497.4" stroke="#000" stroke-width="2.9"/>
<circle cx="1795" cy="436" r="5.8" fill="white" stroke="#000" stroke-width="2.9"/>
<circle cx="1795" cy="463.6" r="5.8" fill="white" stroke="#000" stroke-width="2.9"/>
<circle cx="1795" cy="485.6" r="5.8" fill="white" stroke="#000" stroke-width="2.9"/>
<circle cx="1795" cy="499" r="5.8" fill="white" stroke="#000" stroke-width="2.9"/>
<circle cx="1795" cy="512.6" r="5.8" fill="white" stroke="#000" stroke-width="2.9"/>
<circle cx="1795" cy="525.6" r="5.8" fill="white" stroke="#000" stroke-width="2.9"/>
<circle cx="1795" cy="540.2" r="5.8" fill="white" stroke="#000" stroke-width="2.9"/>
<line x1="1854.4" y1="461.6" x2="1854.4" y2="518" stroke="#000" stroke-width="2.6"/>
<line x1="1846.5" y1="461.6" x2="1862.3" y2="461.6" stroke="#000" stroke-width="2.6"/>
<line x1="1854.4" y1="605.6" x2="1854.4" y2="635" stroke="#000" stroke-width="2.6"/>
<line x1="1846.5" y1="635" x2="1862.3" y2="635" stroke="#000" stroke-width="2.6"/>
<rect x="1827.7" y="518" width="53.4" height="87.6" fill="#d9d9d9" stroke="#000" stroke-width="2.5"/>
<line x1="1826.5" y1="518" x2="1882.3" y2="518" stroke="#000" stroke-width="3"/>
<line x1="1826.5" y1="605.6" x2="1882.3" y2="605.6" stroke="#000" stroke-width="3.6"/>
<line x1="1827.7" y1="560" x2="1881.1" y2="560" stroke="#000" stroke-width="2.9"/>
<circle cx="1854.4" cy="469" r="5.8" fill="#d9d9d9" stroke="#000" stroke-width="2.9"/>
<circle cx="1854.4" cy="495" r="5.8" fill="#d9d9d9" stroke="#000" stroke-width="2.9"/>
<circle cx="1854.4" cy="520" r="5.8" fill="#d9d9d9" stroke="#000" stroke-width="2.9"/>
<circle cx="1854.4" cy="533.6" r="5.8" fill="#d9d9d9" stroke="#000" stroke-width="2.9"/>
<circle cx="1854.4" cy="561" r="5.8" fill="#d9d9d9" stroke="#000" stroke-width="2.9"/>
<circle cx="1854.4" cy="573.6" r="5.8" fill="#d9d9d9" stroke="#000" stroke-width="2.9"/>
<circle cx="1854.4" cy="587" r="5.8" fill="#d9d9d9" stroke="#000" stroke-width="2.9"/>
<circle cx="1854.4" cy="600" r="5.8" fill="#d9d9d9" stroke="#000" stroke-width="2.9"/>
<circle cx="1854.4" cy="630" r="5.8" fill="#d9d9d9" stroke="#000" stroke-width="2.9"/>
<line x1="1913.4" y1="397.4" x2="1913.4" y2="464" stroke="#000" stroke-width="2.6"/>
<line x1="1905.5" y1="397.4" x2="1921.3" y2="397.4" stroke="#000" stroke-width="2.6"/>
<line x1="1913.4" y1="567" x2="1913.4" y2="623.4" stroke="#000" stroke-width="2.6"/>
<line x1="1905.5" y1="623.4" x2="1921.3" y2="623.4" stroke="#000" stroke-width="2.6"/>
<rect x="1886.7" y="464" width="53.4" height="103" fill="#808080" stroke="#000" stroke-width="2.5"/>
<line x1="1885.5" y1="464" x2="1941.3" y2="464" stroke="#000" stroke-width="3"/>
<line x1="1885.5" y1="567" x2="1941.3" y2="567" stroke="#000" stroke-width="3.6"/>
<line x1="1886.7" y1="527.4" x2="1940.1" y2="527.4" stroke="#000" stroke-width="2.9"/>
<circle cx="1913.4" cy="422.4" r="5.8" fill="#808080" stroke="#000" stroke-width="2.9"/>
<circle cx="1913.4" cy="438.4" r="5.8" fill="#808080" stroke="#000" stroke-width="2.9"/>
<circle cx="1913.4" cy="472.4" r="5.8" fill="#808080" stroke="#000" stroke-width="2.9"/>
<circle cx="1913.4" cy="489" r="5.8" fill="#808080" stroke="#000" stroke-width="2.9"/>
<circle cx="1913.4" cy="504" r="5.8" fill="#808080" stroke="#000" stroke-width="2.9"/>
<circle cx="1913.4" cy="561.3" r="5.8" fill="#808080" stroke="#000" stroke-width="2.9"/>
<circle cx="1913.4" cy="578.6" r="5.8" fill="#808080" stroke="#000" stroke-width="2.9"/>
<line x1="1203" y1="102.3" x2="1203" y2="698" stroke="#000" stroke-width="4.4"/>
<line x1="1191.5" y1="695.9" x2="1978" y2="695.9" stroke="#000" stroke-width="4"/>
<line x1="1191.5" y1="597.25" x2="1203" y2="597.25" stroke="#000" stroke-width="4"/>
<line x1="1191.5" y1="498.7" x2="1203" y2="498.7" stroke="#000" stroke-width="4"/>
<line x1="1191.5" y1="400.15" x2="1203" y2="400.15" stroke="#000" stroke-width="4"/>
<line x1="1191.5" y1="301.6" x2="1203" y2="301.6" stroke="#000" stroke-width="4"/>
<line x1="1191.5" y1="203.05" x2="1203" y2="203.05" stroke="#000" stroke-width="4"/>
<line x1="1191.5" y1="104.5" x2="1203" y2="104.5" stroke="#000" stroke-width="4"/>
<text x="1177.5" y="708.4" class="t" text-anchor="end" textLength="44.22" lengthAdjust="spacingAndGlyphs">0,0</text>
<text x="1177.5" y="609.85" class="t" text-anchor="end" textLength="44.22" lengthAdjust="spacingAndGlyphs">0,5</text>
<text x="1177.5" y="511.3" class="t" text-anchor="end" textLength="44.22" lengthAdjust="spacingAndGlyphs">1,0</text>
<text x="1177.5" y="412.75" class="t" text-anchor="end" textLength="44.22" lengthAdjust="spacingAndGlyphs">1,5</text>
<text x="1177.5" y="314.2" class="t" text-anchor="end" textLength="44.22" lengthAdjust="spacingAndGlyphs">2,0</text>
<text x="1177.5" y="215.65" class="t" text-anchor="end" textLength="44.22" lengthAdjust="spacingAndGlyphs">2,5</text>
<text x="1177.5" y="117.1" class="t" text-anchor="end" textLength="44.22" lengthAdjust="spacingAndGlyphs">3,0</text>
<line x1="1264.1" y1="80.5" x2="1323.1" y2="80.5" stroke="#000" stroke-width="2.4"/>
<line x1="1323.1" y1="91.9" x2="1381.7" y2="91.9" stroke="#000" stroke-width="2.4"/>
<text x="1292.6" y="90.7" class="ast" text-anchor="middle">***</text>
<text x="1353.7" y="82.8" class="t" text-anchor="middle" textLength="38.69" lengthAdjust="spacingAndGlyphs">NS</text>
<line x1="1441.3" y1="80.5" x2="1500.3" y2="80.5" stroke="#000" stroke-width="2.4"/>
<line x1="1500.3" y1="91.9" x2="1558.8" y2="91.9" stroke="#000" stroke-width="2.4"/>
<text x="1470.6" y="90.7" class="ast" text-anchor="middle">***</text>
<text x="1531.5" y="82.8" class="t" text-anchor="middle" textLength="38.69" lengthAdjust="spacingAndGlyphs">NS</text>
<line x1="1615.8" y1="80.5" x2="1674.9" y2="80.5" stroke="#000" stroke-width="2.4"/>
<line x1="1674.9" y1="91.9" x2="1733.8" y2="91.9" stroke="#000" stroke-width="2.4"/>
<text x="1643.8" y="90.7" class="ast" text-anchor="middle">***</text>
<text x="1704.9" y="82.8" class="t" text-anchor="middle" textLength="38.69" lengthAdjust="spacingAndGlyphs">NS</text>
<line x1="1792.2" y1="80.5" x2="1851.4" y2="80.5" stroke="#000" stroke-width="2.4"/>
<line x1="1851.4" y1="91.9" x2="1910" y2="91.9" stroke="#000" stroke-width="2.4"/>
<text x="1820.7" y="90.7" class="ast" text-anchor="middle">**</text>
<text x="1881.1" y="82.8" class="t" text-anchor="middle" textLength="38.69" lengthAdjust="spacingAndGlyphs">NS</text>
<text x="1043.2" y="758.6" class="t2" textLength="144.19" lengthAdjust="spacingAndGlyphs">Days after</text>
<text x="1043.5" y="802" class="t2" textLength="233.73" lengthAdjust="spacingAndGlyphs">dsRNA ingestion</text>
<line x1="1263.3" y1="750.1" x2="1382.7" y2="750.1" stroke="#000" stroke-width="3.7"/>
<text x="1323.85" y="802" class="t" text-anchor="middle" textLength="17.75" lengthAdjust="spacingAndGlyphs">7</text>
<line x1="1440.1" y1="750.1" x2="1559" y2="750.1" stroke="#000" stroke-width="3.7"/>
<text x="1499.45" y="802" class="t" text-anchor="middle" textLength="35.48" lengthAdjust="spacingAndGlyphs">14</text>
<line x1="1614.6" y1="750.1" x2="1734.1" y2="750.1" stroke="#000" stroke-width="3.7"/>
<text x="1674.65" y="802" class="t" text-anchor="middle" textLength="35.48" lengthAdjust="spacingAndGlyphs">21</text>
<line x1="1791.3" y1="750.1" x2="1910.5" y2="750.1" stroke="#000" stroke-width="3.7"/>
<text x="1851.85" y="802" class="t" text-anchor="middle" textLength="35.48" lengthAdjust="spacingAndGlyphs">30</text>
<text transform="translate(1065.4,376.5) rotate(-90)" text-anchor="middle" class="yt" textLength="493.56" lengthAdjust="spacingAndGlyphs">Relative expression of chc gene</text>
<text transform="translate(1111.9,373.5) rotate(-90)" text-anchor="middle" class="yt" textLength="132.58" lengthAdjust="spacingAndGlyphs">in heads</text>
<text x="1034.7" y="45" class="L" textLength="29.25" lengthAdjust="spacingAndGlyphs">b</text>
<circle cx="562" cy="755" r="1" fill="#888"/>
<line x1="1558.4" y1="100" x2="1558.4" y2="698" stroke="#fff" stroke-width="1.3"/>
</svg>
</body></html>
